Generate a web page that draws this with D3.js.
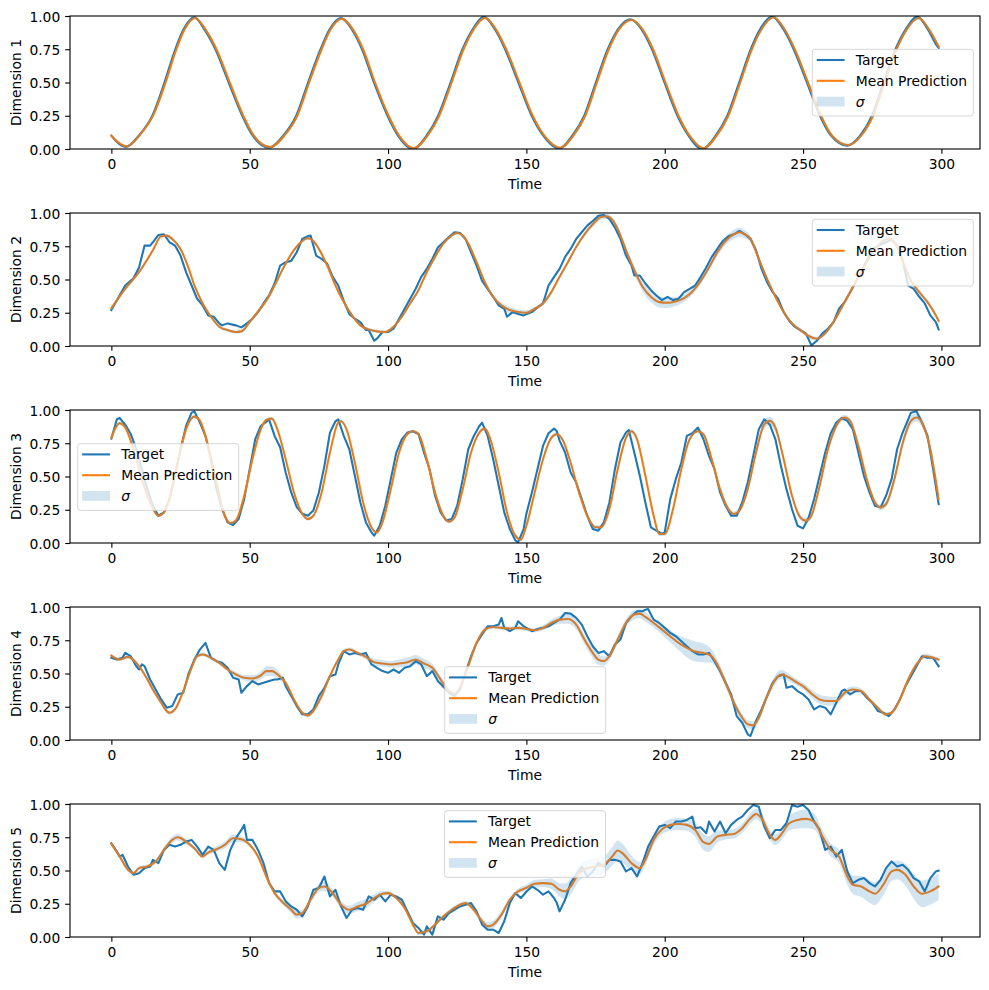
<!DOCTYPE html>
<html><head><meta charset="utf-8">
<script src="https://cdn.jsdelivr.net/npm/d3@7"></script>
<style>
body{margin:0;background:#fff}
svg{display:block}
text{font-family:"DejaVu Sans",sans-serif;fill:#000}
</style>
</head><body>
<svg id="chart" width="989" height="990"></svg>
<script>
// ---------- data ----------
const timeTicks = [0, 50, 100, 150, 200, 250, 300];
const valueTicks = [0, 0.25, 0.5, 0.75, 1.0];
const dimLabels = ["Dimension 1", "Dimension 2", "Dimension 3", "Dimension 4", "Dimension 5"];
const legendNames = ["Target", "Mean Prediction", "σ"];

// target: [time, value]
const target1 = [[0,.10],[2.1,.05],[5.1,.015],[10.1,.105],[14.9,.255],[19.2,.5],[23.1,.75],[26.1,.9],[29.9,.99],[33.6,.9],[37.6,.75],[42.4,.5],[47.3,.25],[51.1,.1],[57,.01],[62.1,.1],[66.8,.25],[71.1,.5],[75.6,.75],[78.9,.9],[82.9,.985],[86.9,.9],[90.6,.75],[94.9,.5],[99.8,.25],[103.6,.1],[108.9,0],[113.9,.1],[118.1,.25],[122.6,.5],[126.9,.75],[130.6,.9],[134.6,.995],[138.6,.9],[142.3,.75],[147.1,.5],[151.9,.25],[156.1,.1],[161.8,.003],[166.6,.1],[170.9,.25],[175.1,.5],[179.4,.75],[183.1,.9],[187.6,.975],[191.6,.9],[195.4,.75],[199.9,.5],[204.6,.25],[208.6,.1],[213.6,0],[218.4,.1],[222.6,.25],[226.9,.5],[231.1,.75],[233.9,.88],[238.9,.995],[242.9,.9],[246.6,.75],[251.4,.5],[256.1,.25],[260.1,.1],[266,.025],[270.6,.1],[274.9,.25],[279.1,.5],[283.4,.75],[287.1,.9],[291.3,.995],[295.1,.9],[298.6,.77],[299,.76]];
const target2 = [[0,.27],[5,.455],[8,.51],[10,.59],[12,.755],[14,.755],[15,.78],[17,.835],[19,.84],[21,.78],[23,.755],[25,.68],[27,.555],[29,.455],[31,.355],[33,.305],[35,.23],[37,.22],[39,.17],[40,.155],[42,.17],[45,.155],[47,.14],[49,.17],[51,.205],[53,.255],[55,.32],[57,.38],[59,.47],[61,.605],[63,.63],[65,.64],[67,.705],[69,.805],[71,.825],[72,.83],[73,.755],[74,.68],[76,.655],[78,.62],[80,.52],[82,.455],[84,.34],[86,.24],[88,.205],[90,.18],[92,.12],[93,.12],[95,.04],[96,.055],[98,.105],[100,.105],[102,.13],[104,.205],[106,.28],[108,.355],[110,.43],[112,.52],[114,.58],[116,.655],[118,.74],[120,.78],[122,.82],[124,.855],[126,.85],[128,.805],[130,.705],[132,.605],[134,.49],[136,.43],[138,.37],[140,.305],[142,.28],[143,.22],[145,.255],[147,.24],[149,.23],[150,.24],[152,.255],[154,.29],[156,.32],[158,.455],[160,.52],[162,.58],[164,.67],[166,.73],[168,.805],[170,.855],[172,.905],[174,.94],[176,.98],[178,.985],[180,.955],[182,.89],[184,.805],[186,.68],[188,.605],[189,.53],[191,.53],[193,.47],[195,.42],[197,.38],[199,.345],[201,.37],[203,.345],[205,.355],[207,.405],[209,.43],[211,.455],[213,.52],[215,.59],[217,.67],[219,.73],[221,.79],[223,.825],[225,.84],[227,.865],[229,.84],[231,.805],[233,.72],[235,.58],[237,.48],[239,.405],[241,.355],[243,.255],[245,.19],[247,.145],[249,.12],[251,.095],[253,.005],[255,.04],[257,.095],[259,.13],[261,.18],[263,.28],[265,.33],[267,.405],[269,.48],[272,.6],[275,.73],[278,.76],[280,.78],[282,.80],[284,.755],[286,.64],[288,.455],[290,.43],[292,.37],[294,.32],[296,.23],[298,.18],[299,.125]];
const target3 = [[0,.785],[2,.93],[3,.94],[5,.89],[7,.82],[9,.705],[11,.555],[13,.405],[15,.28],[17,.205],[19,.23],[21,.33],[23,.505],[25,.705],[27,.88],[29,.98],[30,.99],[32,.905],[34,.805],[36,.63],[38,.405],[40,.255],[42,.155],[44,.135],[46,.18],[48,.33],[50,.555],[52,.78],[54,.88],[56,.91],[57,.93],[59,.805],[61,.72],[63,.53],[65,.38],[67,.27],[69,.22],[71,.205],[73,.245],[75,.38],[77,.58],[79,.83],[81,.915],[82,.93],[84,.805],[86,.705],[88,.505],[90,.305],[92,.155],[94,.08],[95,.055],[97,.13],[99,.28],[101,.48],[103,.68],[105,.78],[107,.83],[109,.84],[111,.82],[113,.68],[115,.555],[117,.355],[119,.23],[121,.17],[123,.18],[125,.28],[127,.48],[129,.705],[131,.805],[133,.88],[134,.905],[136,.805],[138,.63],[140,.43],[142,.23],[144,.105],[146,.02],[147,.005],[149,.105],[150,.22],[152,.38],[154,.555],[156,.73],[158,.825],[160,.86],[161,.84],[162,.77],[164,.68],[166,.53],[168,.455],[170,.33],[172,.205],[174,.105],[176,.093],[178,.155],[180,.305],[182,.555],[184,.755],[186,.83],[187,.85],[189,.68],[191,.505],[193,.305],[195,.118],[197,.093],[199,.068],[200,.08],[202,.33],[204,.48],[206,.605],[208,.805],[210,.825],[212,.868],[214,.78],[216,.655],[218,.555],[220,.38],[222,.28],[224,.205],[226,.205],[228,.305],[230,.455],[232,.655],[234,.855],[236,.93],[238,.89],[240,.78],[242,.58],[244,.405],[246,.255],[248,.13],[250,.11],[252,.19],[254,.33],[256,.505],[258,.68],[260,.825],[262,.905],[264,.94],[266,.918],[268,.855],[270,.68],[272,.505],[274,.38],[276,.28],[278,.268],[280,.355],[282,.48],[284,.705],[286,.83],[288,.93],[289,.98],[291,.99],[293,.905],[295,.805],[297,.555],[299,.293]];
const target4 = [[0,.618],[2,.605],[4,.618],[5,.655],[7,.63],[9,.555],[10,.53],[11,.568],[12,.555],[14,.455],[16,.38],[18,.305],[20,.243],[22,.255],[24,.343],[26,.355],[28,.505],[30,.605],[32,.68],[34,.73],[36,.618],[38,.593],[40,.58],[42,.543],[44,.468],[46,.455],[47,.355],[49,.405],[51,.443],[53,.418],[55,.43],[57,.443],[59,.455],[60,.455],[62,.468],[63,.405],[65,.33],[67,.255],[69,.193],[71,.193],[73,.23],[75,.33],[77,.393],[79,.48],[81,.493],[82,.568],[84,.668],[86,.643],[88,.655],[90,.643],[92,.655],[94,.568],[96,.543],[98,.518],[100,.505],[102,.53],[104,.505],[106,.543],[108,.555],[110,.593],[112,.568],[114,.48],[116,.518],[118,.443],[120,.4],[122,.355],[124,.33],[126,.38],[128,.505],[130,.63],[132,.73],[134,.793],[136,.855],[138,.855],[140,.868],[141,.918],[142,.843],[144,.818],[146,.843],[147,.893],[149,.855],[150,.843],[152,.818],[154,.835],[156,.843],[158,.855],[160,.88],[162,.905],[164,.955],[166,.95],[168,.918],[170,.868],[172,.78],[174,.705],[176,.655],[178,.668],[180,.63],[182,.718],[184,.755],[186,.88],[188,.93],[190,.968],[192,.968],[193,.98],[194,.985],[196,.905],[198,.88],[200,.843],[202,.805],[204,.78],[206,.743],[208,.705],[210,.668],[212,.643],[214,.643],[216,.655],[218,.593],[220,.518],[222,.43],[224,.343],[226,.18],[228,.13],[230,.043],[231,.03],[233,.143],[235,.23],[237,.33],[239,.43],[241,.48],[243,.493],[244,.393],[246,.405],[248,.368],[250,.343],[252,.305],[254,.23],[256,.255],[258,.243],[260,.193],[262,.28],[264,.368],[265,.38],[267,.343],[269,.368],[271,.368],[273,.318],[275,.28],[277,.218],[279,.205],[281,.18],[283,.23],[285,.305],[287,.405],[289,.48],[291,.555],[293,.63],[295,.618],[297,.618],[299,.555]];
const target5 = [[0,.705],[2,.643],[3,.605],[4,.618],[6,.53],[8,.468],[10,.48],[12,.518],[14,.53],[15,.58],[17,.555],[19,.655],[21,.693],[23,.68],[25,.693],[27,.718],[29,.73],[31,.68],[33,.618],[35,.68],[37,.655],[39,.555],[41,.505],[43,.655],[45,.743],[47,.805],[48,.843],[49,.73],[51,.73],[53,.655],[55,.555],[57,.405],[59,.343],[61,.343],[63,.268],[65,.23],[67,.205],[69,.155],[71,.23],[73,.355],[75,.368],[77,.455],[79,.305],[81,.355],[83,.23],[85,.143],[87,.205],[89,.218],[91,.205],[93,.305],[95,.28],[97,.318],[99,.268],[101,.318],[103,.305],[105,.28],[107,.193],[109,.105],[111,.068],[113,.018],[114,.08],[116,.018],[118,.155],[120,.13],[122,.18],[124,.205],[126,.23],[128,.243],[130,.255],[132,.193],[134,.093],[136,.055],[138,.055],[140,.03],[142,.118],[144,.255],[146,.33],[148,.293],[150,.34],[152,.38],[154,.355],[156,.318],[158,.343],[160,.293],[161,.255],[162,.193],[164,.28],[166,.405],[168,.468],[170,.53],[172,.455],[174,.493],[176,.555],[178,.53],[180,.58],[182,.58],[184,.568],[186,.493],[188,.518],[190,.455],[192,.555],[194,.68],[196,.755],[198,.83],[200,.843],[202,.818],[204,.868],[206,.868],[208,.88],[210,.905],[211,.818],[213,.825],[215,.78],[216,.868],[218,.793],[220,.868],[222,.78],[224,.843],[226,.88],[228,.905],[230,.955],[232,.993],[234,.98],[236,.83],[238,.743],[240,.805],[242,.805],[244,.855],[246,.993],[248,.98],[250,.993],[252,.955],[254,.868],[256,.805],[258,.655],[260,.68],[262,.605],[264,.655],[266,.493],[268,.405],[270,.43],[272,.443],[274,.405],[276,.38],[278,.43],[280,.518],[282,.568],[284,.53],[286,.543],[288,.505],[290,.443],[292,.418],[294,.343],[296,.443],[298,.493],[299,.5]];

// mean prediction: [time, mean, sigma]
const mean1 = [[0,.10,.008],[2.5,.05,.008],[5.5,.02,.008],[10.5,.11,.008],[15.3,.26,.008],[19.6,.5,.008],[23.5,.75,.008],[26.5,.9,.008],[30.3,.985,.008],[34,.9,.008],[38,.75,.008],[42.8,.5,.008],[47.7,.25,.008],[51.5,.1,.008],[57.4,.015,.008],[62.5,.1,.008],[67.2,.25,.008],[71.5,.5,.008],[76,.75,.008],[79.3,.9,.008],[83.3,.98,.008],[87.3,.9,.008],[91,.75,.008],[95.3,.5,.008],[100.2,.25,.008],[104,.1,.008],[109.3,.005,.008],[114.3,.1,.008],[118.5,.25,.008],[123,.5,.008],[127.3,.75,.008],[131,.9,.008],[135,.985,.008],[139,.9,.008],[142.7,.75,.008],[147.5,.5,.008],[152.3,.25,.008],[156.5,.1,.008],[162.2,.01,.008],[167,.1,.008],[171.3,.25,.008],[175.5,.5,.008],[179.8,.75,.008],[183.5,.9,.008],[188,.97,.008],[192,.9,.008],[195.8,.75,.008],[200.3,.5,.008],[205,.25,.008],[209,.1,.008],[214,.005,.008],[218.8,.1,.008],[223,.25,.008],[227.3,.5,.01],[231.5,.75,.012],[235,.9,.014],[239.3,.99,.015],[243.3,.9,.015],[247,.75,.015],[251.8,.5,.012],[256.5,.25,.01],[260.5,.1,.01],[266.4,.03,.01],[271,.1,.01],[275.3,.25,.01],[279.5,.5,.012],[283.8,.75,.014],[287.5,.9,.015],[291.7,.985,.015],[295.5,.9,.015],[299,.77,.015]];
const mean2 = [[0,.285,.012],[5,.43,.012],[10,.555,.012],[15,.72,.012],[18,.825,.012],[20,.83,.012],[22,.805,.012],[25,.73,.012],[28,.58,.012],[30,.455,.012],[33,.32,.012],[36,.22,.012],[39,.145,.012],[42,.12,.012],[45,.105,.012],[47,.11,.012],[50,.18,.012],[53,.26,.012],[56,.34,.012],[59,.455,.012],[62,.58,.012],[65,.69,.012],[68,.77,.012],[71,.81,.012],[73,.79,.012],[75,.73,.012],[78,.605,.012],[81,.455,.012],[84,.33,.012],[87,.23,.012],[90,.155,.012],[93,.125,.012],[96,.11,.012],[99,.105,.012],[102,.145,.012],[105,.22,.012],[108,.32,.012],[111,.42,.012],[114,.555,.012],[117,.67,.012],[120,.77,.012],[123,.83,.012],[125,.85,.012],[127,.83,.012],[129,.77,.012],[132,.63,.015],[135,.48,.015],[138,.37,.015],[141,.305,.02],[144,.27,.025],[147,.255,.02],[150,.25,.02],[153,.28,.015],[156,.32,.015],[159,.405,.015],[162,.52,.015],[165,.63,.015],[168,.745,.015],[171,.84,.015],[174,.915,.02],[177,.97,.02],[179,.975,.02],[181,.95,.02],[183,.88,.02],[186,.72,.025],[189,.57,.03],[192,.445,.035],[195,.37,.04],[198,.33,.04],[201,.325,.04],[204,.335,.035],[207,.36,.03],[210,.41,.025],[213,.49,.025],[216,.59,.025],[219,.705,.03],[222,.79,.03],[225,.84,.035],[227,.855,.035],[229,.84,.03],[231,.805,.025],[234,.655,.02],[237,.505,.02],[240,.37,.015],[243,.255,.015],[246,.17,.015],[249,.12,.015],[252,.075,.015],[255,.055,.015],[258,.095,.015],[261,.18,.015],[264,.29,.015],[267,.405,.015],[270,.52,.015],[273,.63,.015],[276,.73,.015],[279,.79,.015],[281,.805,.015],[283,.78,.015],[286,.64,.015],[289,.49,.015],[292,.405,.015],[295,.33,.015],[298,.23,.015],[299,.19,.015]];
const mean3 = [[0,.79,.012],[3,.9,.012],[5,.87,.012],[8,.705,.012],[11,.48,.012],[14,.305,.012],[17,.205,.012],[19,.23,.012],[21,.33,.012],[24,.605,.012],[27,.855,.012],[30,.95,.012],[32,.92,.012],[35,.73,.012],[38,.455,.012],[41,.205,.012],[43,.15,.012],[45,.17,.012],[48,.355,.012],[51,.63,.012],[54,.855,.012],[56,.925,.012],[58,.935,.012],[60,.855,.012],[63,.63,.012],[66,.38,.012],[69,.22,.012],[71,.18,.012],[73,.205,.012],[76,.38,.012],[79,.68,.012],[82,.905,.012],[83,.915,.012],[85,.855,.012],[88,.605,.012],[91,.305,.012],[94,.118,.012],[96,.08,.012],[98,.155,.012],[101,.405,.012],[104,.68,.012],[107,.82,.012],[109,.84,.012],[111,.82,.012],[114,.63,.012],[117,.38,.012],[120,.205,.012],[122,.16,.012],[124,.19,.012],[127,.405,.012],[130,.68,.012],[133,.83,.012],[135,.86,.012],[137,.78,.012],[140,.53,.012],[143,.23,.012],[146,.055,.012],[148,.025,.012],[150,.13,.015],[153,.38,.015],[156,.63,.015],[159,.79,.015],[161,.818,.015],[163,.78,.015],[166,.605,.015],[169,.38,.015],[172,.205,.015],[175,.118,.015],[177,.118,.015],[180,.255,.015],[183,.555,.015],[186,.79,.018],[188,.84,.018],[190,.78,.018],[193,.505,.015],[196,.205,.015],[198,.068,.015],[200,.068,.015],[203,.255,.015],[206,.555,.015],[209,.78,.015],[212,.84,.015],[214,.818,.015],[217,.63,.015],[220,.405,.015],[223,.255,.018],[225,.218,.02],[227,.243,.02],[230,.405,.022],[233,.68,.025],[236,.893,.03],[238,.918,.032],[240,.868,.03],[243,.63,.025],[246,.355,.02],[249,.193,.02],[251,.168,.02],[253,.205,.02],[256,.43,.02],[259,.705,.02],[262,.88,.022],[265,.943,.022],[267,.918,.022],[270,.73,.02],[273,.48,.02],[276,.305,.02],[278,.268,.02],[280,.293,.022],[283,.48,.025],[286,.75,.03],[289,.918,.032],[291,.943,.032],[293,.905,.032],[296,.705,.03],[299,.33,.03]];
const mean4 = [[0,.635,.012],[3,.605,.012],[6,.625,.015],[9,.58,.015],[12,.493,.015],[15,.38,.015],[18,.28,.015],[20,.218,.015],[21,.205,.015],[23,.23,.015],[26,.368,.015],[29,.543,.015],[31,.63,.015],[33,.643,.015],[36,.618,.015],[39,.58,.015],[42,.53,.015],[45,.493,.02],[48,.468,.02],[51,.463,.025],[54,.485,.03],[56,.518,.037],[58,.518,.037],[61,.475,.03],[63,.43,.02],[66,.305,.015],[69,.205,.015],[71,.185,.015],[73,.218,.015],[76,.33,.015],[79,.48,.015],[82,.605,.015],[84,.668,.015],[86,.68,.015],[89,.655,.015],[92,.625,.02],[95,.585,.025],[98,.575,.025],[101,.568,.025],[104,.575,.03],[107,.585,.035],[110,.605,.035],[113,.575,.035],[116,.543,.03],[119,.455,.025],[122,.368,.02],[124,.348,.02],[126,.393,.02],[129,.555,.015],[132,.73,.015],[135,.83,.015],[138,.85,.015],[141,.843,.015],[144,.838,.015],[147,.843,.015],[150,.835,.015],[153,.825,.015],[156,.843,.02],[159,.88,.025],[162,.905,.03],[165,.91,.035],[168,.868,.035],[171,.755,.035],[174,.655,.04],[176,.605,.04],[178,.593,.035],[180,.63,.03],[183,.755,.03],[186,.88,.03],[189,.943,.035],[191,.95,.035],[193,.925,.035],[196,.88,.035],[199,.83,.04],[202,.78,.045],[205,.73,.055],[208,.693,.07],[211,.665,.075],[214,.655,.07],[217,.63,.05],[219,.568,.04],[222,.43,.035],[225,.28,.03],[228,.168,.03],[230,.118,.03],[232,.11,.03],[234,.168,.03],[237,.33,.03],[240,.455,.035],[242,.493,.035],[244,.48,.03],[247,.443,.025],[250,.405,.025],[253,.35,.03],[256,.305,.035],[259,.293,.035],[262,.293,.03],[265,.355,.025],[268,.38,.025],[271,.368,.02],[274,.305,.015],[277,.243,.015],[280,.193,.015],[282,.205,.015],[285,.305,.015],[288,.455,.015],[291,.568,.02],[294,.63,.02],[297,.618,.015],[299,.605,.015]];
const mean5 = [[0,.7,.015],[3,.605,.015],[6,.505,.015],[8,.48,.015],[10,.518,.015],[13,.53,.015],[16,.568,.015],[19,.655,.02],[22,.73,.025],[24,.75,.025],[27,.718,.02],[30,.668,.015],[33,.605,.015],[35,.635,.015],[38,.66,.02],[41,.693,.025],[44,.743,.03],[47,.735,.02],[50,.693,.015],[53,.605,.015],[56,.455,.015],[59,.33,.015],[62,.26,.02],[65,.205,.025],[67,.168,.03],[69,.18,.025],[72,.28,.025],[75,.368,.03],[77,.38,.035],[80,.33,.03],[83,.243,.025],[86,.205,.03],[89,.23,.035],[92,.25,.035],[95,.293,.03],[98,.325,.02],[100,.33,.015],[103,.293,.015],[106,.218,.015],[109,.093,.015],[111,.03,.015],[114,.043,.015],[117,.093,.015],[120,.155,.015],[123,.205,.015],[126,.243,.015],[128,.255,.015],[131,.205,.02],[134,.118,.025],[136,.08,.03],[138,.093,.03],[141,.168,.025],[144,.28,.02],[147,.343,.02],[150,.37,.025],[153,.4,.03],[156,.405,.03],[159,.4,.04],[162,.355,.05],[164,.343,.06],[166,.38,.06],[169,.48,.06],[172,.518,.06],[175,.53,.065],[178,.543,.065],[181,.605,.07],[183,.65,.075],[185,.625,.07],[188,.555,.055],[191,.518,.045],[193,.58,.04],[196,.73,.04],[199,.81,.04],[202,.843,.045],[205,.85,.045],[208,.843,.045],[211,.805,.05],[214,.713,.06],[216,.7,.06],[219,.755,.045],[222,.768,.035],[225,.775,.035],[228,.818,.035],[231,.893,.04],[233,.925,.04],[235,.893,.04],[238,.768,.04],[240,.73,.04],[242,.768,.045],[245,.855,.055],[248,.88,.065],[251,.888,.07],[254,.868,.06],[257,.755,.05],[260,.655,.05],[263,.605,.05],[266,.455,.06],[268,.393,.07],[271,.38,.08],[274,.343,.085],[276,.325,.085],[279,.393,.08],[282,.493,.07],[284,.505,.07],[287,.468,.08],[290,.38,.09],[293,.325,.1],[296,.343,.1],[299,.38,.1]];

const targets = [target1, target2, target3, target4, target5];
const means = [mean1, mean2, mean3, mean4, mean5];

// ---------- layout ----------
const W = 989, H = 990;
const PT = 100 / 72;            // px per point at 100 dpi
const FS = 10 * PT;             // 10pt font
const LW = 1.5 * PT;            // line width
const left = 70, right = 980;
const panelTop0 = 16, panelStep = 197, panelH = 133;
const legendBoxes = [[812.3, 49.3], [812.3, 219.3], [77.7, 443.7], [444.7, 666.7], [444.5, 810.7]];
const legendW = 161, legendH = 66.7;
const C0 = "#1f77b4", C1 = "#ff7f0e";

const svg = d3.select("#chart");
svg.append("rect").attr("width", W).attr("height", H).attr("fill", "#fff");

const x = d3.scaleLinear().domain([-14.95, 313.95]).range([left, right]);

for (let i = 0; i < 5; i++) {
  const top = panelTop0 + i * panelStep, bottom = top + panelH;
  const y = d3.scaleLinear().domain([0, 1]).range([bottom, top]);
  const g = svg.append("g");

  const clipId = "clip" + i;
  svg.append("clipPath").attr("id", clipId)
    .append("rect").attr("x", left).attr("y", top).attr("width", right - left).attr("height", panelH);

  const plot = g.append("g").attr("clip-path", `url(#${clipId})`);

  const lineT = d3.line().x(d => x(d[0])).y(d => y(d[1]))
    .curve(i === 0 ? d3.curveMonotoneX : d3.curveLinear);
  const lineM = d3.line().x(d => x(d[0])).y(d => y(d[1])).curve(d3.curveMonotoneX);
  const band = d3.area().x(d => x(d[0])).y0(d => y(d[1] - d[2])).y1(d => y(d[1] + d[2])).curve(d3.curveMonotoneX);

  plot.append("path").datum(targets[i]).attr("d", lineT)
    .attr("fill", "none").attr("stroke", C0).attr("stroke-width", LW)
    .attr("stroke-linejoin", "round").attr("stroke-linecap", "square");
  plot.append("path").datum(means[i]).attr("d", lineM)
    .attr("fill", "none").attr("stroke", C1).attr("stroke-width", LW)
    .attr("stroke-linejoin", "round").attr("stroke-linecap", "square");
  plot.append("path").datum(means[i]).attr("d", band)
    .attr("fill", C0).attr("fill-opacity", 0.2).attr("stroke", "none");

  // axes
  const xAxis = d3.axisBottom(x).tickValues(timeTicks).tickFormat(d3.format("d"))
    .tickSizeInner(3.5 * PT).tickSizeOuter(0).tickPadding(3.5 * PT);
  const yAxis = d3.axisLeft(y).tickValues(valueTicks).tickFormat(d3.format(".2f"))
    .tickSizeInner(3.5 * PT).tickSizeOuter(0).tickPadding(3.5 * PT);

  const gx = g.append("g").attr("transform", `translate(0,${bottom})`).call(xAxis);
  const gy = g.append("g").attr("transform", `translate(${left},0)`).call(yAxis);
  [gx, gy].forEach(ax => {
    ax.select(".domain").remove();
    ax.selectAll(".tick line").attr("stroke", "#000").attr("stroke-width", 0.8 * PT);
    ax.selectAll(".tick text").attr("font-size", FS).attr("font-family", "DejaVu Sans").attr("fill", "#000");
  });
  gx.selectAll(".tick text").attr("dy", null).attr("y", 20).attr("dominant-baseline", "auto");
  gy.selectAll(".tick text").attr("dy", null).attr("y", 5).attr("dominant-baseline", "auto");

  // spines
  g.append("rect").attr("x", left).attr("y", top).attr("width", right - left).attr("height", panelH)
    .attr("fill", "none").attr("stroke", "#000").attr("stroke-width", 0.8 * PT);

  // labels
  g.append("text").attr("x", (left + right) / 2).attr("y", bottom + 40)
    .attr("text-anchor", "middle").attr("font-size", FS).text("Time");
  g.append("text").attr("transform", `translate(21,${(top + bottom) / 2}) rotate(-90)`)
    .attr("text-anchor", "middle").attr("font-size", FS).text(dimLabels[i]);

  // legend
  const [lx, ly] = legendBoxes[i];
  const lg = svg.append("g").attr("transform", `translate(${lx},${ly})`);
  lg.append("rect").attr("x", 0).attr("y", 0).attr("width", legendW).attr("height", legendH)
    .attr("rx", 2.8).attr("ry", 2.8)
    .attr("fill", "#fff").attr("fill-opacity", 0.8)
    .attr("stroke", "#cccccc").attr("stroke-opacity", 0.8).attr("stroke-width", 1);
  const rows = [10.7, 31.5, 52.3];
  const hx0 = 4.4, hx1 = 32.3, tx = 43.5;
  lg.append("line").attr("x1", hx0).attr("x2", hx1).attr("y1", rows[0]).attr("y2", rows[0])
    .attr("stroke", C0).attr("stroke-width", LW);
  lg.append("line").attr("x1", hx0).attr("x2", hx1).attr("y1", rows[1]).attr("y2", rows[1])
    .attr("stroke", C1).attr("stroke-width", LW);
  lg.append("rect").attr("x", hx0).attr("y", rows[2] - 4.9).attr("width", hx1 - hx0).attr("height", 9.7)
    .attr("fill", C0).attr("fill-opacity", 0.2);
  legendNames.forEach((nm, k) => {
    const t = lg.append("text").attr("x", tx).attr("y", rows[k] + 5).attr("font-size", FS).text(nm);
    if (k === 2) t.attr("font-style", "italic");
  });
}
</script>
</body></html>
